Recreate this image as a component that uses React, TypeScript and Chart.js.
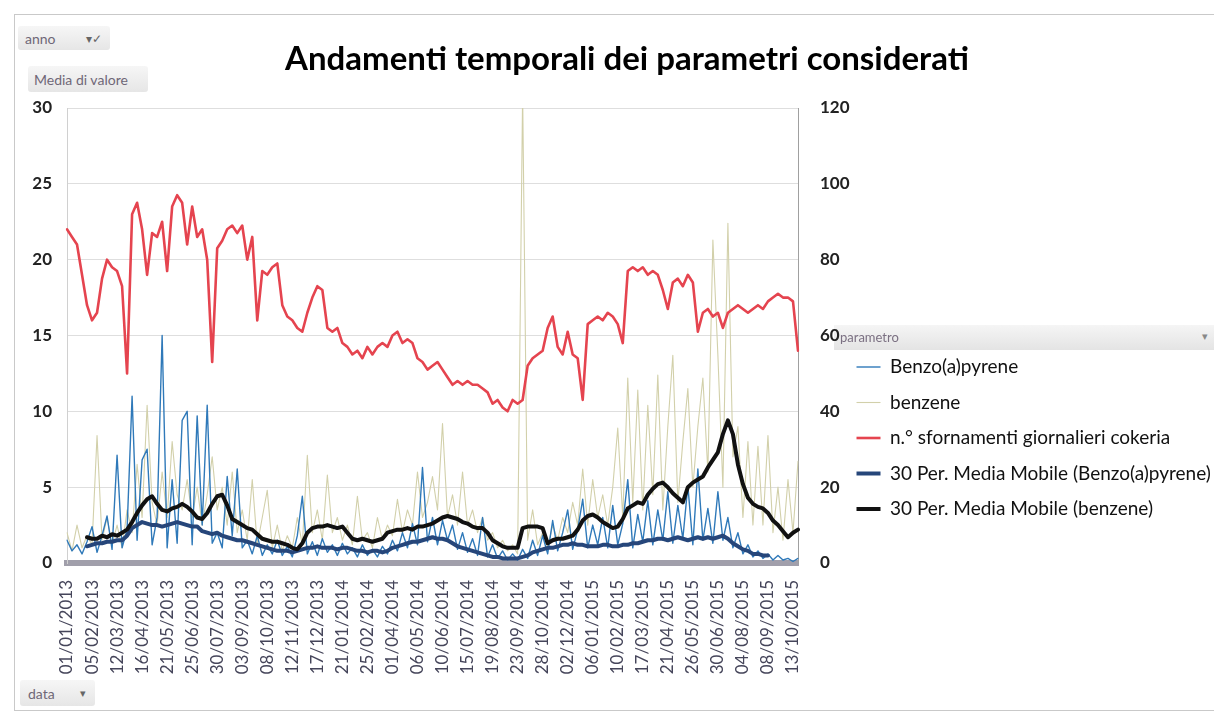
import React, { useEffect, useRef } from "react";
import { Chart, registerables } from "chart.js";

Chart.register(...registerables);

const FONT = "Lato, 'Open Sans', sans-serif";
const TITLE = "Andamenti temporali dei parametri considerati";

// Tick labels shown every 5 weeks (35 days)
const tickLabels = [
  "01/01/2013", "05/02/2013", "12/03/2013", "16/04/2013", "21/05/2013", "25/06/2013",
  "30/07/2013", "03/09/2013", "08/10/2013", "12/11/2013", "17/12/2013", "21/01/2014",
  "25/02/2014", "01/04/2014", "06/05/2014", "10/06/2014", "15/07/2014", "19/08/2014",
  "23/09/2014", "28/10/2014", "02/12/2014", "06/01/2015", "10/02/2015", "17/03/2015",
  "21/04/2015", "26/05/2015", "30/06/2015", "04/08/2015", "08/09/2015", "13/10/2015",
];

// Weekly readings (left axis)
const benzo = [
  1.5, 0.8, 1.2, 0.6, 1.4, 2.4, 0.7, 1.8, 3.1, 0.9,
  7.1, 1.0, 2.2, 11.0, 1.5, 6.8, 7.5, 1.2, 3.0, 15.0,
  1.0, 5.5, 1.3, 9.4, 10.0, 1.2, 9.7, 2.5, 10.4, 1.3,
  2.0, 1.0, 5.7, 1.8, 6.2, 1.0, 1.5, 0.6, 1.8, 0.5,
  1.2, 0.6, 1.5, 0.5, 1.1, 0.4, 1.8, 4.4, 0.6, 1.4,
  0.5, 1.6, 0.7, 1.2, 0.5, 1.3, 0.6, 1.0, 0.4, 1.2,
  0.5, 0.9, 0.4, 1.1, 0.6, 1.5, 0.8, 2.0, 1.0, 2.6,
  1.2, 6.3, 1.4, 3.0, 1.2, 2.8, 1.5, 2.5, 0.9, 2.0,
  0.7, 1.6, 0.5, 3.0, 0.4, 1.2, 0.3, 0.8, 0.2, 0.6,
  0.2, 0.9, 0.3, 1.5, 0.5, 1.8, 0.6, 2.8, 0.8, 2.0,
  3.5, 0.9, 2.2, 4.2, 1.0, 2.5, 1.2, 3.0, 1.0, 3.8,
  1.2, 2.6, 5.5, 1.0, 3.2, 1.4, 4.1, 1.2, 3.5, 1.5,
  4.7, 1.3, 3.8, 1.6, 5.1, 1.2, 6.2, 1.5, 3.6, 1.3,
  4.7, 1.5, 3.0, 1.0, 2.0, 0.6, 1.2, 0.4, 0.8, 0.3,
  0.6, 0.2, 0.5, 0.2, 0.3, 0.1, 0.3,
];

const benzene = [
  2.0, 0.8, 2.5, 1.0, 1.8, 1.2, 8.4, 1.5, 3.0, 1.2,
  2.5, 1.0, 3.5, 2.0, 6.5, 3.0, 10.4, 4.0, 2.5, 6.0,
  3.0, 8.0, 4.5, 3.5, 5.5, 3.0, 5.0, 2.5, 4.5, 7.0,
  3.5, 5.0, 2.5, 6.0, 2.0, 3.5, 1.5, 5.5, 1.2, 3.0,
  4.8, 1.0, 2.5, 0.8, 1.8, 1.0, 3.0, 1.2, 7.1, 2.0,
  3.5, 1.5, 5.8, 2.0, 3.0, 1.5, 2.5, 1.2, 4.4, 1.5,
  2.0, 1.0, 3.0, 1.5, 2.5, 1.8, 4.2, 2.0, 3.5, 2.5,
  6.0, 3.0, 4.0, 5.7, 3.5, 9.2, 3.0, 4.5, 2.5, 6.0,
  2.5, 3.5, 2.0, 3.0, 1.5, 2.0, 1.0, 1.5, 0.8, 1.2,
  0.6, 31.0, 1.5, 3.5, 1.2, 2.0, 1.0, 2.5, 1.5, 3.0,
  2.0, 4.0, 2.5, 6.2, 2.5, 5.5, 3.0, 4.5, 2.5, 5.0,
  8.9, 3.0, 12.2, 4.0, 11.4, 3.5, 10.4, 4.5, 12.4, 3.5,
  9.0, 13.7, 4.0, 8.0, 11.5, 5.0, 9.0, 12.2, 6.0, 21.3,
  13.7, 5.0, 22.4, 7.0, 9.0, 3.0, 8.0, 2.5, 7.7, 2.5,
  8.4, 2.0, 5.0, 1.5, 5.5, 2.0, 6.7,
];

// Right axis
const sfornamenti = [
  88, 86, 84, 76, 68, 64, 66, 75, 80, 78,
  77, 73, 50, 92, 95, 88, 76, 87, 86, 90,
  77, 94, 97, 95, 84, 94, 86, 88, 80, 53,
  83, 85, 88, 89, 87, 89, 80, 86, 64, 77,
  76, 78, 79, 68, 65, 64, 62, 61, 66, 70,
  73, 72, 62, 61, 62, 58, 57, 55, 56, 54,
  57, 55, 57, 58, 57, 60, 61, 58, 59, 58,
  54, 53, 51, 52, 53, 51, 49, 47, 48, 47,
  48, 47, 47, 46, 45, 42, 43, 41, 40, 43,
  42, 43, 52, 54, 55, 56, 62, 65, 57, 55,
  61, 55, 54, 43, 63, 64, 65, 64, 66, 65,
  63, 58, 77, 78, 77, 78, 76, 77, 76, 72,
  67, 74, 75, 73, 76, 74, 61, 66, 67, 65,
  66, 62, 66, 67, 68, 67, 66, 67, 68, 67,
  69, 70, 71, 70, 70, 69, 56,
];

const mmBenzo = [
  null, null, null, null, 1.1, 1.2, 1.3, 1.3, 1.4, 1.4,
  1.5, 1.5, 1.8, 2.3, 2.5, 2.7, 2.6, 2.5, 2.5, 2.4,
  2.5, 2.6, 2.7, 2.6, 2.5, 2.4, 2.4, 2.1, 2.0, 1.9,
  2.0, 1.8, 1.7, 1.6, 1.5, 1.5, 1.4, 1.3, 1.2, 1.1,
  1.0, 0.9, 0.8, 0.8, 0.8, 0.7, 0.8, 0.9, 1.0, 1.0,
  1.1, 1.0, 1.0, 1.0, 0.9, 1.0, 1.0, 0.9, 0.8, 0.8,
  0.7, 0.8, 0.8, 0.7, 0.8, 1.0, 1.1, 1.2, 1.3, 1.4,
  1.4, 1.5, 1.6, 1.7, 1.6, 1.6, 1.5, 1.3, 1.1, 1.0,
  0.9, 0.8, 0.7, 0.6, 0.5, 0.4, 0.4, 0.3, 0.3, 0.3,
  0.3, 0.4, 0.5, 0.7, 0.8, 0.9, 1.0, 1.0, 1.1, 1.2,
  1.2, 1.3, 1.2, 1.2, 1.1, 1.1, 1.1, 1.2, 1.2, 1.1,
  1.1, 1.2, 1.2, 1.3, 1.3, 1.4, 1.5, 1.5, 1.6, 1.6,
  1.5, 1.6, 1.7, 1.6, 1.5, 1.6, 1.7, 1.6, 1.7, 1.6,
  1.7, 1.8, 1.6, 1.3, 1.1, 0.9, 0.8, 0.6, 0.6, 0.5,
  0.5, null, null, null, null, null, null,
];

const mmBenzene = [
  null, null, null, null, 1.7, 1.6, 1.6, 1.8, 1.7, 1.9,
  1.8, 2.0, 2.2, 2.7, 3.3, 3.8, 4.2, 4.4, 3.9, 3.5,
  3.4, 3.6, 3.7, 3.9, 3.7, 3.4, 3.0, 2.9, 3.3, 3.9,
  4.4, 4.5, 3.8, 2.9, 2.7, 2.5, 2.3, 2.2, 1.9, 1.6,
  1.5, 1.4, 1.4, 1.3, 1.2, 1.0, 0.9, 1.3, 2.0, 2.3,
  2.4, 2.4, 2.5, 2.4, 2.3, 2.4, 2.0, 1.6, 1.5, 1.6,
  1.5, 1.4, 1.5, 1.6, 2.0, 2.1, 2.2, 2.2, 2.3, 2.2,
  2.4, 2.4, 2.5, 2.6, 2.8, 3.0, 3.1, 3.0, 2.9, 2.7,
  2.6, 2.4, 2.3, 2.3, 2.0, 1.5, 1.3, 1.1, 1.0, 1.0,
  1.0, 2.3, 2.4, 2.4, 2.4, 2.3, 1.3, 1.5, 1.6, 1.6,
  1.7, 1.8, 2.2, 2.8, 3.1, 3.2, 3.0, 2.7, 2.5, 2.3,
  2.4, 2.9, 3.6, 3.8, 4.0, 3.9, 4.5, 4.9, 5.2, 5.3,
  5.0, 4.6, 4.3, 4.0, 5.0, 5.3, 5.5, 5.7, 6.3, 6.8,
  7.3, 8.5, 9.4, 8.5, 6.5, 5.2, 4.3, 3.9, 3.7, 3.6,
  3.3, 2.8, 2.5, 2.1, 1.7, 2.0, 2.2,
];

const seriesNames = [
  "Benzo(a)pyrene",
  "benzene",
  "n.° sfornamenti giornalieri cokeria",
  "30 Per. Media Mobile (Benzo(a)pyrene)",
  "30 Per. Media Mobile (benzene)",
];

function pad2(n: number) {
  return n < 10 ? "0" + n : String(n);
}
// weekly categories starting 01/01/2013
const categories = sfornamenti.map((_, i) => {
  const d = new Date(2013, 0, 1 + 7 * i);
  return pad2(d.getDate()) + "/" + pad2(d.getMonth() + 1) + "/" + d.getFullYear();
});

// let the axis tick labels extend outside their (narrow) layout boxes
const unclipAxisLabels = {
  id: "unclipAxisLabels",
  afterLayout(chart: any) {
    if (chart.scales.y) chart.scales.y.left = 0;
    if (chart.scales.y1) chart.scales.y1.right = chart.width;
  },
};

const btn: React.CSSProperties = {
  position: "absolute",
  background: "linear-gradient(#f6f6f6, #e6e6e6)",
  borderRadius: 3,
  color: "#6f6777",
  fontFamily: FONT,
  fontSize: 14,
  display: "flex",
  alignItems: "center",
  boxSizing: "border-box",
  zIndex: 2,
};

export default function App() {
  const ref = useRef<HTMLCanvasElement | null>(null);

  useEffect(() => {
    if (!ref.current) return;
    const chart = new Chart(ref.current, {
      type: "line",
      data: {
        labels: categories,
        datasets: [
          {
            label: seriesNames[0],
            data: benzo,
            borderColor: "#2f79b9",
            backgroundColor: "#2f79b9",
            borderWidth: 1.4,
            yAxisID: "y",
            order: 4,
          },
          {
            label: seriesNames[1],
            data: benzene,
            borderColor: "#d2d0aa",
            backgroundColor: "#d2d0aa",
            borderWidth: 1.1,
            yAxisID: "y",
            order: 5,
          },
          {
            label: seriesNames[2],
            data: sfornamenti,
            borderColor: "#e5444f",
            backgroundColor: "#e5444f",
            borderWidth: 2.6,
            yAxisID: "y1",
            order: 2,
          },
          {
            label: seriesNames[3],
            data: mmBenzo,
            borderColor: "#26467a",
            backgroundColor: "#26467a",
            borderWidth: 4,
            yAxisID: "y",
            order: 1,
          },
          {
            label: seriesNames[4],
            data: mmBenzene,
            borderColor: "#111111",
            backgroundColor: "#111111",
            borderWidth: 4,
            yAxisID: "y",
            order: 0,
          },
        ],
      },
      options: {
        animation: false,
        responsive: false,
        maintainAspectRatio: false,
        layout: { padding: { left: 32, right: 0, top: 0, bottom: 0 } },
        elements: {
          point: { radius: 0, hoverRadius: 0 },
          line: { tension: 0, borderJoinStyle: "round", borderCapStyle: "round" },
        },
        plugins: {
          title: {
            display: true,
            text: TITLE,
            color: "#000",
            font: { family: FONT, size: 33, weight: "bold" },
            padding: { top: 32, bottom: 28.4 },
          },
          legend: {
            position: "right",
            fullSize: false,
            align: "center",
            maxWidth: 374,
            title: {
              display: true,
              text: "parametro",
              color: "#7b7082",
              position: "start",
              font: { family: FONT, size: 13, lineHeight: 1 },
              padding: { top: 195, bottom: -3 },
            },
            labels: {
              usePointStyle: true,
              pointStyle: "line",
              pointStyleWidth: 24,
              padding: 16.5,
              color: "#111",
              font: { family: FONT, size: 19 },
              sort: (a: any, b: any) => a.datasetIndex - b.datasetIndex,
            },
          },
          tooltip: { enabled: false },
        },
        scales: {
          x: {
            type: "category",
            offset: false,
            grid: { display: false },
            border: { display: true, color: "#a19fab", width: 6 },
            ticks: {
              autoSkip: false,
              maxRotation: 90,
              minRotation: 90,
              padding: 9,
              color: "#45455a",
              font: { family: FONT, size: 17 },
              callback: (_v: any, i: number) => (i % 5 === 0 && tickLabels[i / 5] ? tickLabels[i / 5] : null),
            },
            afterFit: (s: any) => {
              s.height = 149;
            },
          },
          y: {
            position: "left",
            min: 0,
            max: 30,
            ticks: {
              stepSize: 5,
              padding: 15,
              color: "#222",
              font: { family: FONT, size: 17, weight: "bold" },
            },
            grid: { color: "#dedede", drawTicks: false },
            border: { display: true, color: "#d0d0d0" },
            afterFit: (s: any) => {
              s.width = 27;
            },
          },
          y1: {
            position: "right",
            min: 0,
            max: 120,
            ticks: {
              stepSize: 20,
              padding: 22,
              color: "#222",
              font: { family: FONT, size: 17, weight: "bold" },
            },
            grid: { drawOnChartArea: false, drawTicks: false },
            border: { display: true, color: "#a0a0a0", dash: [4, 3] },
            afterFit: (s: any) => {
              s.width = 42;
            },
          },
        },
      },
      plugins: [unclipAxisLabels],
    } as any);
    return () => chart.destroy();
  }, []);

  return (
    <div style={{ position: "relative", width: 1206, height: 704, overflow: "hidden", background: "#fff" }}>
      <div
        style={{
          position: "absolute",
          left: 6,
          top: 6,
          width: 1210,
          height: 697,
          borderTop: "1px solid #c9c9c9",
          borderLeft: "1px solid #c9c9c9",
          borderBottom: "1px solid #c9c9c9",
          boxSizing: "border-box",
          zIndex: 0,
        }}
      />
      <div
        style={{
          position: "absolute",
          left: 826,
          top: 317,
          width: 380,
          height: 25,
          background: "linear-gradient(#f5f5f5, #e4e4e4)",
          zIndex: 0,
        }}
      >
        <span style={{ position: "absolute", right: 6, top: 4, fontSize: 11, color: "#888", fontFamily: FONT }}>▾</span>
      </div>
      <canvas ref={ref} width={1206} height={704} style={{ position: "absolute", left: 0, top: 0, zIndex: 1 }} />
      <div style={{ ...btn, left: 10, top: 18, width: 92, height: 24, paddingLeft: 7 }}>
        <span>anno</span>
        <span style={{ marginLeft: "auto", marginRight: 8, fontSize: 12, color: "#666" }}>▾✓</span>
      </div>
      <div style={{ ...btn, left: 20, top: 58, width: 120, height: 26, paddingLeft: 6 }}>Media di valore</div>
      <div style={{ ...btn, left: 12, top: 672, width: 75, height: 26, paddingLeft: 8 }}>
        <span>data</span>
        <span style={{ marginLeft: "auto", marginRight: 9, fontSize: 11, color: "#666" }}>▾</span>
      </div>
    </div>
  );
}
